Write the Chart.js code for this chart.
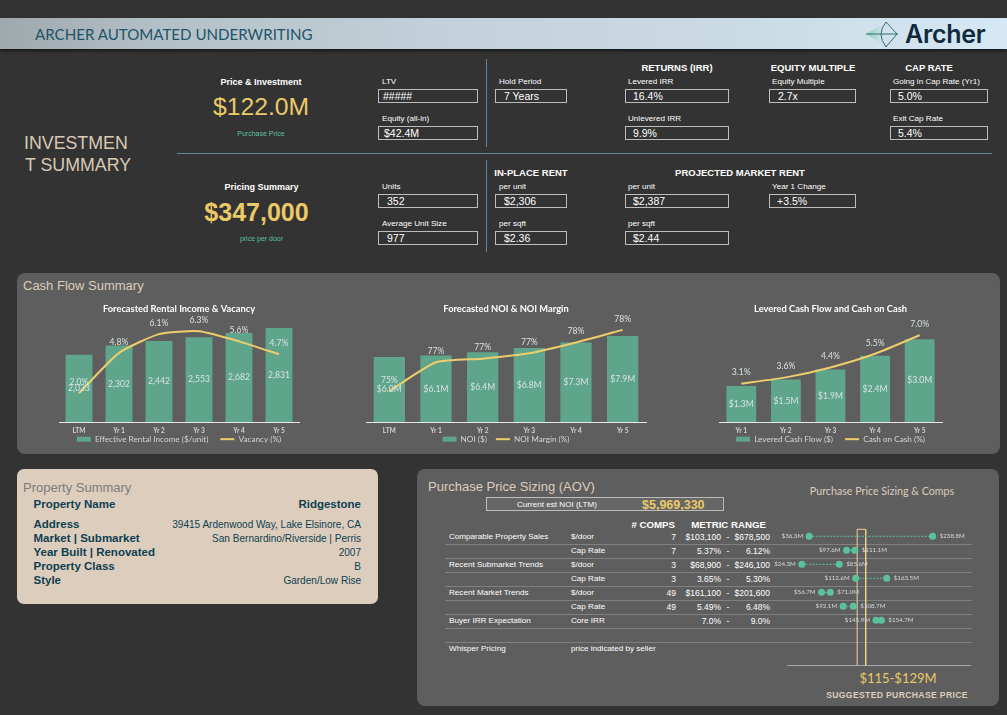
<!DOCTYPE html>
<html><head><meta charset="utf-8">
<script src="https://cdn.jsdelivr.net/npm/chart.js@4"></script>
<style>
html,body{margin:0;padding:0;background:#333;width:1007px;height:715px;overflow:hidden}
body{position:relative;font-family:"Liberation Sans",Arial,sans-serif;color:#fff}
.t{position:absolute;white-space:nowrap;line-height:1;transform:translateY(-50%)}
.c{transform:translate(-50%,-50%)}
.r{transform:translate(-100%,-50%)}
.panel,.hdr,.rule,.box,canvas,svg{position:absolute}
.hdr{left:0;top:18px;width:1007px;height:31px;background:linear-gradient(90deg,#9ea8ad 0,#b4c0c7 16%,#c4d1da 45%,#cbdbe6 75%,#d6e8f4 100%);box-shadow:0 2px 3px rgba(0,0,0,.55)}
.panel{background:#5e5e5e;border-radius:8px}
.rule{background:#5d8799}
.box{border:1px solid #bdbdbd;box-sizing:border-box;height:14px}
.lab{font-size:8.1px}
.val{font-size:10.5px}
.hd{font-size:9.5px;font-weight:bold}
.hd2{font-size:9px;font-weight:bold}
.sec{font-size:13px;color:#dccdbd}
.tb{font-size:8.1px}
.num{font-size:8.5px}
.prop{font-size:11.5px;font-weight:bold;color:#0e3f52}
.propv{font-size:10.05px;color:#0e3f52}
</style></head><body>
<script>
// ---------- data ----------
const chart1Labels = ['LTM','Yr 1','Yr 2','Yr 3','Yr 4','Yr 5'];
const rentalIncome = [2023,2302,2442,2553,2682,2831];
const vacancy = [2.0,4.8,6.1,6.3,5.6,4.7];
const chart2Labels = ['LTM','Yr 1','Yr 2','Yr 3','Yr 4','Yr 5'];
const noi = [5.97,6.1,6.4,6.8,7.3,7.9];
const noiMargin = [75.0,76.6,76.8,77.1,77.7,78.4];
const chart3Labels = ['Yr 1','Yr 2','Yr 3','Yr 4','Yr 5'];
const leveredCF = [1.3,1.54,1.9,2.4,3.0];
const cashOnCash = [3.1,3.6,4.4,5.5,7.0];
const dotLow = [36.3,97.6,24.3,112.6,56.7,92.1,145.9];
const dotHigh = [238.8,111.1,85.6,163.5,71.0,108.7,154.7];
const bandLow = 115;
const bandHigh = 129;
const sizingSources = ['Comparable Property Sales','','Recent Submarket Trends','','Recent Market Trends','','Buyer IRR Expectation'];
const sizingMetrics = ['$/door','Cap Rate','$/door','Cap Rate','$/door','Cap Rate','Core IRR'];
const sizingComps = ['7','7','3','3','49','49',''];
const sizingFrom = ['$103,100','5.37%','$68,900','3.65%','$161,100','5.49%','7.0%'];
const sizingTo = ['$678,500','6.12%','$246,100','5.30%','$201,600','6.48%','9.0%'];
const propLabels = ['Address','Market | Submarket','Year Built | Renovated','Property Class','Style'];
const propValues = ['39415 Ardenwood Way, Lake Elsinore, CA','San Bernardino/Riverside | Perris','2007','B','Garden/Low Rise'];

// ---------- page ----------
const el=(cls,css,txt)=>{const d=document.createElement('div');d.className=cls;d.style.cssText=css;if(txt!==undefined)d.textContent=txt;document.body.appendChild(d);return d;};
const t=(x,y,s,cls,css)=>el('t '+(cls||''),`left:${x}px;top:${y}px;${css||''}`,s);
const box=(x0,x1,yc)=>el('box',`left:${x0}px;width:${x1-x0}px;top:${yc-7}px`);
const rule=(x,y,w,h)=>el('rule',`left:${x}px;top:${y}px;width:${w}px;height:${h}px`);

el('hdr','');
t(35,34,'ARCHER AUTOMATED UNDERWRITING','','font:15.1px Lato,sans-serif;color:#1c5468');
document.body.insertAdjacentHTML('beforeend',`<svg style="left:862px;top:20px" width="40" height="30" viewBox="0 0 40 30">
<defs><linearGradient id="g" x1="0" x2="1"><stop offset="0" stop-color="#7fd6b0"/><stop offset="1" stop-color="#7fd6b0" stop-opacity=".05"/></linearGradient></defs>
<polygon points="4,14 19,5 19,23" fill="url(#g)"/>
<path d="M4 14H36" stroke="#2f6f74" stroke-width="1" fill="none"/>
<path d="M24 2 L35 14 L24 27 Q14 14 24 2Z" stroke="#2f6f74" stroke-width="1" fill="none"/></svg>`);
t(905,34,'Archer','','font:600 25px Inter,sans-serif;color:#10293b;letter-spacing:-.3px');

t(24,143.5,'INVESTMEN','','font-size:17.8px;color:#d9c9b6');
t(25,165.5,'T SUMMARY','','font-size:17.8px;color:#d9c9b6');
t(261,82,'Price & Investment','c hd2');
t(261,107,'$122.0M','c','font-size:24.7px;color:#ebc966');
t(261,132.5,'Purchase Price','c','font-size:7px;color:#5cc09d');
t(261.5,187,'Pricing Summary','c hd2');
t(256.5,212,'$347,000','c','font-size:25px;font-weight:bold;color:#ebc966');
t(261.5,238,'price per door','c','font-size:7px;color:#5cc09d');
rule(177,153,815,1);rule(486,59,1,88);rule(486,160,1,92);

const cells=[[382,82,'LTV',378,478,'#####',383],[382,119,'Equity (all-in)',378,478,'$42.4M',384],
[382,187,'Units',378,478,'352',387],[382,224,'Average Unit Size',378,478,'977',387],
[499,82,'Hold Period',495,567,'7 Years',504],[499,187,'per unit',495,567,'$2,306',504],[499,224,'per sqft',495,567,'$2.36',504],
[628,82,'Levered IRR',625,729,'16.4%',633],[628,119,'Unlevered IRR',625,729,'9.9%',633],[628,187,'per unit',625,729,'$2,387',633],[628,224,'per sqft',625,729,'$2.44',633],
[772,82,'Equity Multiple',769,856,'2.7x',778],[772,187,'Year 1 Change',769,856,'+3.5%',777],
[893,82,'Going in Cap Rate (Yr1)',890,988,'5.0%',898],[893,119,'Exit Cap Rate',890,988,'5.4%',898]];
cells.forEach(c=>{t(c[0],c[1],c[2],'lab');box(c[3],c[4],c[1]+14);t(c[6],c[1]+14,c[5],'val');});
t(677,68,'RETURNS (IRR)','c hd');t(813,68,'EQUITY MULTIPLE','c hd');t(929,68,'CAP RATE','c hd');
t(531,173,'IN-PLACE RENT','c hd');t(740,173,'PROJECTED MARKET RENT','c hd');

el('panel','left:17px;top:273px;width:983px;height:181px');
t(23,285,'Cash Flow Summary','sec');

el('panel','left:17px;top:469px;width:361px;height:135px;background:#ddcdbd;border-radius:7px');
t(23,486.5,'Property Summary','','font-size:13px;color:#7b7b7b');
t(33.5,504.5,'Property Name','prop');t(361,504.5,'Ridgestone','r prop');
propLabels.forEach((l,i)=>{const y=524.5+14*i;t(33.5,y,l,'prop');t(361,y,propValues[i],'r propv');});

el('panel','left:417px;top:469px;width:582px;height:237px');
t(428,486,'Purchase Price Sizing (AOV)','sec');
el('box','left:486px;top:497px;width:238px;background:#666');
t(517,505,'Current est NOI (LTM)','tb');
t(642,505,'$5,969,330','','font-size:12.5px;font-weight:bold;color:#ebc966');
t(675,525,'# COMPS','r hd','font-size:9.7px');t(766,525,'METRIC RANGE','r hd','font-size:9.7px');
for(let i=0;i<8;i++)el('rule',`left:445px;width:527px;top:${544+14*i}px;height:1px;background:#808080`);
sizingMetrics.forEach((m,i)=>{const y=537+14*i;
 t(449,y,sizingSources[i],'tb');t(571,y,m,'tb');t(676,y,sizingComps[i],'r num');
 t(721,y,sizingFrom[i],'r num');t(726.5,y,'-','num');t(770,y,sizingTo[i],'r num');});
t(449,649,'Whisper Pricing','tb');t(571,649,'price indicated by seller','tb');
t(882,490,'Purchase Price Sizing & Comps','c','font:10.7px Lato,sans-serif;color:#dccdbd');
t(898,678,'$115-$129M','c','font:13px Lato,sans-serif;color:#ebc966');
t(897,695,'SUGGESTED PURCHASE PRICE','c','font-size:8.6px;font-weight:bold;color:#dccdbd;letter-spacing:.35px');

// ---------- charts ----------
Chart.defaults.font.family='Lato, sans-serif';
Chart.defaults.animation=false;
const BAR='#5fa58c',LINE='#eecd6c',TXT='#d8e1e4';
const CANVAS_H=180, PLOT_BOTTOM=122, LEGEND_Y=140, LEGEND_FONT=8.2;
function addCanvas(x,y,w,h){const c=document.createElement('canvas');c.width=w;c.height=h;c.style.cssText=`left:${x}px;top:${y}px;width:${w}px;height:${h}px`;document.body.appendChild(c);return c;}

function combo(o){
 const plugin={id:'valueLabels',
  afterLayout(ch){ch.legend.top=LEGEND_Y-LEGEND_FONT*.6-o.gap;},
  afterDatasetsDraw(ch){
  const c=ch.ctx;c.save();c.font='8.6px Lato, sans-serif';c.fillStyle=TXT;c.textAlign='center';c.textBaseline='middle';
  ch.getDatasetMeta(1).data.forEach((b,i)=>c.fillText(o.barFmt(ch.data.datasets[1].data[i]),b.x,(b.y+b.base)/2));
  ch.getDatasetMeta(0).data.forEach((p,i)=>c.fillText(o.lineFmt(ch.data.datasets[0].data[i]),p.x,p.y-11));
  c.restore();}};
 return new Chart(addCanvas(o.x,300,o.w,CANVAS_H),{
  data:{labels:o.labels,datasets:[
   {type:'line',label:o.lineName,data:o.line,yAxisID:'y1',borderColor:LINE,backgroundColor:LINE,borderWidth:2,pointRadius:0,tension:.18,order:0,pointStyle:'line'},
   {type:'bar',label:o.barName,data:o.bars,yAxisID:'y',backgroundColor:BAR,categoryPercentage:.67,barPercentage:1,order:1,pointStyle:'rect'}]},
  options:{responsive:false,animation:false,
   layout:{padding:{left:o.pl,right:o.pr,top:0,bottom:0}},
   scales:{
    x:{grid:{display:false,drawTicks:false},border:{color:'#e8e8e8',width:1},
       ticks:{color:'#d4d4d4',font:{size:6.6,weight:'bold'},padding:5,maxRotation:0,autoSkip:false},
       afterFit(s){s.height=CANVAS_H-PLOT_BOTTOM-(s.chart.legend?s.chart.legend.height:30);}},
    y:{display:false,min:0,max:o.yMax},
    y1:{display:false,min:o.y1Min||0,max:o.y1Max}},
   plugins:{
    title:{display:true,text:o.title,color:'#fff',font:{size:9.3,weight:'bold'},padding:{top:3,bottom:1.84}},
    legend:{position:'bottom',reverse:true,labels:{color:'#d4d4d4',font:{size:LEGEND_FONT},usePointStyle:true,pointStyleWidth:14,boxHeight:5,padding:o.gap}},
    tooltip:{enabled:false}}},
  plugins:[plugin]});
}
combo({x:40,w:271,pl:19,pr:12,gap:12,labels:chart1Labels,bars:rentalIncome,line:vacancy,yMax:3191,y1Max:7.36,
 title:'Forecasted Rental Income & Vacancy',barName:'Effective Rental Income ($/unit)',lineName:'Vacancy (%)',
 barFmt:v=>v.toLocaleString('en-US'),lineFmt:v=>v.toFixed(1)+'%'});
combo({x:350,w:303,pl:16,pr:7,gap:9,labels:chart2Labels,bars:noi,line:noiMargin,yMax:9.725,y1Min:73.28,y1Max:79.17,
 title:'Forecasted NOI & NOI Margin',barName:'NOI ($)',lineName:'NOI Margin (%)',
 barFmt:v=>'$'+v.toFixed(1)+'M',lineFmt:v=>v.toFixed(0)+'%'});
combo({x:705,w:244,pl:14,pr:7,gap:12,labels:chart3Labels,bars:leveredCF,line:cashOnCash,yMax:3.84,y1Max:8.55,
 title:'Levered Cash Flow and Cash on Cash',barName:'Levered Cash Flow ($)',lineName:'Cash on Cash (%)',
 barFmt:v=>'$'+v.toFixed(1)+'M',lineFmt:v=>v.toFixed(1)+'%'});

const DOT='#5cc29d';
const rowSets=dotLow.map((lo,i)=>({label:'r'+i,data:[{x:lo,y:i+1},{x:dotHigh[i],y:i+1}],showLine:true,borderColor:DOT,borderWidth:1,borderDash:[2,1.5],
  pointRadius:3.5,pointBackgroundColor:DOT,pointBorderWidth:0,clip:false}));
const bandSet={label:'band',data:[{x:bandLow,y:10.21},{x:bandLow,y:.5},{x:bandHigh,y:.5},{x:bandHigh,y:10.21}],showLine:true,borderColor:'#eed58c',borderWidth:1,pointRadius:0,tension:0,clip:false};
new Chart(addCanvas(750,515,230,160),{type:'scatter',
 data:{datasets:[...rowSets,bandSet]},
 options:{responsive:false,animation:false,layout:{padding:{left:37,right:10,top:7.3,bottom:9.7}},
  scales:{x:{min:0,max:300,grid:{display:false},border:{color:'#a8a8a8',width:1},ticks:{display:false},afterFit(s){s.height=0;}},
          y:{display:false,min:0,max:10.21,reverse:true}},
  plugins:{legend:{display:false},tooltip:{enabled:false}}},
 plugins:[{id:'dotLabels',afterDatasetsDraw(ch){
  const c=ch.ctx;c.save();c.font='6.2px Lato, sans-serif';c.fillStyle='#d4dadd';c.textBaseline='middle';
  dotLow.forEach((lo,i)=>{const m=ch.getDatasetMeta(i).data;
   c.textAlign='right';c.fillText('$'+lo.toFixed(1)+'M',m[0].x-6,m[0].y);
   c.textAlign='left';c.fillText('$'+dotHigh[i].toFixed(1)+'M',m[1].x+7,m[1].y);});
  c.restore();}}]});
</script>
</body></html>
